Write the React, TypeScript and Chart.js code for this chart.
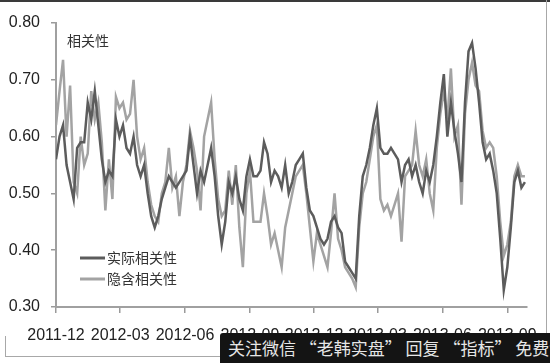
import React, { useEffect, useRef } from 'react';
import { Chart, registerables } from 'chart.js';

Chart.register(...registerables);

const startDate = '2011-12-01';
const stepDays = 5;
const axisEndDays = 668;
const tickLabels = ['2011-12', '2012-03', '2012-06', '2012-09', '2012-12', '2013-03', '2013-06', '2013-09'];
const chartTitle = '相关性';
const seriesNames = ['实际相关性', '隐含相关性'];
const seriesColors = ['#5c5c5c', '#a3a3a3'];

const actual = [
  0.56, 0.60, 0.62, 0.55, 0.52, 0.49, 0.58, 0.59, 0.59, 0.66,
  0.63, 0.68, 0.62, 0.56, 0.52, 0.54, 0.53, 0.63, 0.60, 0.62,
  0.58, 0.57, 0.60, 0.55, 0.53, 0.55, 0.50, 0.46, 0.44, 0.46,
  0.49, 0.51, 0.53, 0.52, 0.51, 0.52, 0.53, 0.54, 0.60, 0.55,
  0.50, 0.54, 0.52, 0.55, 0.58, 0.53, 0.46, 0.41, 0.45, 0.52,
  0.50, 0.53, 0.49, 0.47, 0.53, 0.56, 0.53, 0.53, 0.54, 0.59,
  0.57, 0.52, 0.54, 0.53, 0.51, 0.55, 0.50, 0.52, 0.55, 0.56,
  0.57, 0.51, 0.47, 0.46, 0.44, 0.42, 0.41, 0.42, 0.45, 0.46,
  0.44, 0.43, 0.38, 0.37, 0.36, 0.35, 0.46, 0.53, 0.55, 0.58,
  0.62, 0.65, 0.58, 0.57, 0.57, 0.58, 0.57, 0.56, 0.52, 0.55,
  0.56, 0.53, 0.55, 0.52, 0.50, 0.54, 0.52, 0.55, 0.60, 0.66,
  0.71, 0.60, 0.66, 0.61, 0.57, 0.52, 0.66, 0.75, 0.765, 0.72,
  0.66, 0.59, 0.56, 0.57, 0.54, 0.50, 0.42, 0.33, 0.37, 0.44,
  0.52, 0.54, 0.51, 0.52,
];

const implied = [
  0.62, 0.68, 0.735, 0.60, 0.69, 0.52, 0.50, 0.60, 0.55, 0.57,
  0.68, 0.63, 0.66, 0.59, 0.47, 0.56, 0.49, 0.67, 0.65, 0.66,
  0.63, 0.64, 0.70, 0.60, 0.56, 0.58, 0.52, 0.48, 0.46, 0.45,
  0.50, 0.52, 0.58, 0.51, 0.53, 0.46, 0.52, 0.55, 0.61, 0.58,
  0.54, 0.47, 0.60, 0.63, 0.66, 0.56, 0.49, 0.46, 0.47, 0.54,
  0.48, 0.55, 0.44, 0.37, 0.50, 0.54, 0.45, 0.45, 0.45, 0.50,
  0.46, 0.41, 0.43, 0.40, 0.37, 0.44, 0.47, 0.50, 0.53, 0.54,
  0.55, 0.50, 0.44, 0.38, 0.43, 0.41, 0.39, 0.37, 0.43, 0.50,
  0.42, 0.40, 0.37, 0.36, 0.35, 0.335, 0.44, 0.50, 0.52, 0.56,
  0.60, 0.62, 0.49, 0.47, 0.48, 0.46, 0.48, 0.50, 0.415, 0.53,
  0.54, 0.55, 0.61, 0.55, 0.53, 0.56, 0.50, 0.47, 0.58, 0.64,
  0.68, 0.63, 0.72, 0.60, 0.62, 0.48, 0.64, 0.70, 0.73, 0.69,
  0.68, 0.61, 0.58, 0.59, 0.58, 0.53, 0.45, 0.39, 0.41, 0.45,
  0.53, 0.55, 0.53, 0.53,
];

const watermark = '关注微信 “老韩实盘” 回复 “指标” 免费领';

const dayOffset = (label: string) =>
  Math.round((Date.parse(label + '-01') - Date.parse(startDate)) / 86400000);

const tickFont = "'Liberation Sans Narrow', 'Arial Narrow', 'Liberation Sans', Arial, sans-serif";
const cjkFont = "'Noto Sans CJK SC', 'Noto Sans', sans-serif";

const overlayPlugin = {
  id: 'overlayText',
  afterDraw(chart: any) {
    const ctx = chart.ctx;
    const area = chart.chartArea;
    ctx.save();
    ctx.fillStyle = '#333';
    ctx.font = `14px ${cjkFont}`;
    ctx.textBaseline = 'middle';
    ctx.textAlign = 'left';
    ctx.fillText(chartTitle, area.left + 11, area.top + 18);
    const lx = area.left + 24;
    chart.data.datasets.forEach((ds: any, i: number) => {
      const y = area.top + 235 + i * 21;
      ctx.strokeStyle = ds.borderColor;
      ctx.lineWidth = 3;
      ctx.beginPath();
      ctx.moveTo(lx, y);
      ctx.lineTo(lx + 25, y);
      ctx.stroke();
      ctx.fillStyle = '#333';
      ctx.fillText(ds.label, lx + 27, y);
    });
    ctx.restore();
  },
};

export default function App() {
  const canvasRef = useRef<HTMLCanvasElement | null>(null);

  useEffect(() => {
    const canvas = canvasRef.current;
    if (!canvas) return;
    const toPoints = (arr: number[]) => arr.map((v, i) => ({ x: i * stepDays, y: v }));
    const tickMap = new Map<number, string>();
    tickLabels.forEach((l) => tickMap.set(dayOffset(l), l));

    const chart = new Chart(canvas, {
      type: 'line',
      data: {
        datasets: [
          {
            label: seriesNames[0],
            data: toPoints(actual),
            borderColor: seriesColors[0],
            backgroundColor: seriesColors[0],
            borderWidth: 2.5,
            pointRadius: 0,
            tension: 0,
          },
          {
            label: seriesNames[1],
            data: toPoints(implied),
            borderColor: seriesColors[1],
            backgroundColor: seriesColors[1],
            borderWidth: 2.5,
            pointRadius: 0,
            tension: 0,
          },
        ],
      },
      options: {
        animation: false,
        responsive: false,
        devicePixelRatio: 1,
        layout: { padding: { left: 6, right: 8, top: 23, bottom: 0 } },
        plugins: {
          legend: { display: false },
          tooltip: { enabled: false },
        },
        scales: {
          x: {
            type: 'linear',
            min: 0,
            max: axisEndDays,
            afterBuildTicks: (scale: any) => {
              scale.ticks = tickLabels.map((l) => ({ value: dayOffset(l) }));
            },
            afterFit: (scale: any) => {
              scale.height = 56;
            },
            grid: { drawOnChartArea: false, drawTicks: true, tickLength: 6, color: '#9a9a9a', lineWidth: 1.5 },
            border: { display: true, color: '#a0a0a0', width: 2 },
            ticks: {
              autoSkip: false,
              maxRotation: 0,
              padding: 13,
              color: '#222',
              font: { family: tickFont, size: 16 },
              callback: (v: any) => tickMap.get(Math.round(Number(v))) ?? '',
            },
          },
          y: {
            min: 0.3,
            max: 0.8,
            afterFit: (scale: any) => {
              scale.width = 50;
            },
            grid: { drawOnChartArea: false, drawTicks: true, tickLength: 5, color: '#9a9a9a', lineWidth: 1.5 },
            border: { display: true, color: '#a0a0a0', width: 2 },
            ticks: {
              stepSize: 0.1,
              padding: 11,
              color: '#222',
              font: { family: tickFont, size: 16 },
              callback: (v: any) => Number(v).toFixed(2),
            },
          },
        },
      },
      plugins: [overlayPlugin],
    } as any);
    return () => chart.destroy();
  }, []);

  return (
    <div style={{ position: 'fixed', left: 0, top: 0, width: 550, height: 363, background: '#fff', overflow: 'hidden' }}>
      <canvas ref={canvasRef} width={550} height={363} style={{ width: 550, height: 363, display: 'block' }} />
      <div style={{ position: 'absolute', left: 0, top: 0, width: 550, height: 2, background: '#3a3a3a' }} />
      <div style={{ position: 'absolute', left: 546, top: 0, width: 1, height: 363, background: '#a8a8a8' }} />
      <div style={{ position: 'absolute', left: 5, top: 356, width: 220, height: 1, background: '#a8a8a8' }} />
      <div style={{ position: 'absolute', left: 5, top: 336, width: 1, height: 21, background: '#a8a8a8' }} />
      <div
        style={{
          position: 'absolute',
          left: 220,
          top: 333,
          width: 330,
          height: 30,
          background: '#141414',
          borderTopLeftRadius: 3,
          color: '#e6e6e6',
          fontFamily: cjkFont,
          fontSize: 17,
          lineHeight: '30px',
          paddingLeft: 8,
          whiteSpace: 'nowrap',
          overflow: 'hidden',
          boxSizing: 'border-box',
        }}
      >
        {watermark}
      </div>
    </div>
  );
}
